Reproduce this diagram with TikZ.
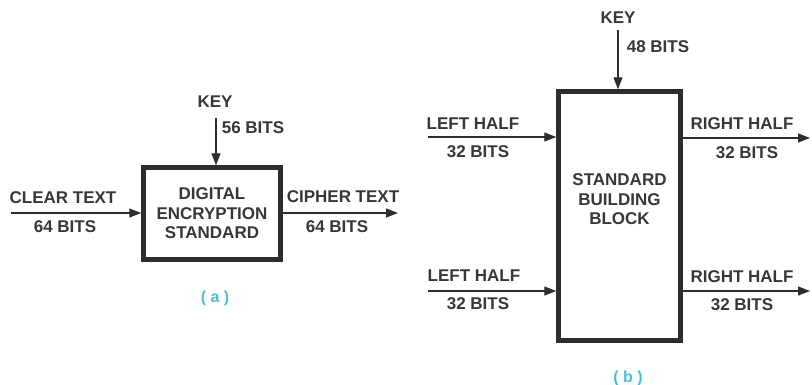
\documentclass[tikz,border=0pt]{standalone}
\usepackage{fontspec}
\setmainfont{Liberation Sans}
\usetikzlibrary{arrows.meta}
\definecolor{inkgray}{RGB}{45, 45, 45}
\definecolor{textgray}{RGB}{55, 55, 55}
\definecolor{capcyan}{RGB}{70, 190, 220}

\begin{document}
\begin{tikzpicture}[
            x=1pt, y=-1pt,
            every node/.style={font=\fontsize{17}{19.5}\selectfont\bfseries, text=textgray, align=center},
            block/.style={rectangle, draw=inkgray, line width=4.5pt, fill=white, inner sep=0pt},
            arrow/.style={-{Triangle[length=12pt, width=9pt]}, line width=1.4pt, draw=inkgray},
            caption/.style={text=capcyan, font=\fontsize{16}{18}\selectfont\bfseries}
        ]
            \useasboundingbox (0,0) rectangle (812,384);
            % (a) digital encryption standard
            \node[block, minimum width=137pt, minimum height=92pt] (des) at (212,213.5) {DIGITAL\\ENCRYPTION\\STANDARD};
            \coordinate (keyA) at (216,118);
            \coordinate (clearIn) at (11,213);
            \coordinate (cipherOut) at (398,213);
            \draw[arrow] (keyA) -- (keyA |- des.north);
            \draw[arrow] (clearIn) -- (clearIn -| des.west);
            \draw[arrow] (cipherOut -| des.east) -- (cipherOut);
            \node (keyAlbl) at (215,102) {KEY};
            \node (keyAbits) at (253,128) {56 BITS};
            \node (clearlbl) at (63,198) {CLEAR TEXT};
            \node (clearbits) at (65,227) {64 BITS};
            \node (cipherlbl) at (343,197) {CIPHER TEXT};
            \node (cipherbits) at (337,227) {64 BITS};
            \node[caption] (capA) at (215,298) {( a )};
            % (b) standard building block
            \node[block, minimum width=122pt, minimum height=249pt] (sbb) at (619.5,216) {STANDARD\\BUILDING\\BLOCK\\[14pt]};
            \coordinate (keyB) at (618,30);
            \coordinate (leftUp) at (428,137);
            \coordinate (leftDown) at (428,291);
            \coordinate (rightUp) at (810,138);
            \coordinate (rightDown) at (810,291);
            \draw[arrow] (keyB) -- (keyB |- sbb.north);
            \draw[arrow] (leftUp) -- (leftUp -| sbb.west);
            \draw[arrow] (leftDown) -- (leftDown -| sbb.west);
            \draw[arrow] (rightUp -| sbb.east) -- (rightUp);
            \draw[arrow] (rightDown -| sbb.east) -- (rightDown);
            \node (keyBlbl) at (618,18) {KEY};
            \node (keyBbits) at (658,47) {48 BITS};
            \node (leftUplbl) at (473,124) {LEFT HALF};
            \node (leftUpbits) at (478,152) {32 BITS};
            \node (leftDownlbl) at (474,276) {LEFT HALF};
            \node (leftDownbits) at (478,304) {32 BITS};
            \node (rightUplbl) at (742,124) {RIGHT HALF};
            \node (rightUpbits) at (747,153) {32 BITS};
            \node (rightDownlbl) at (742,277) {RIGHT HALF};
            \node (rightDownbits) at (742,305) {32 BITS};
            \node[caption] (capB) at (628,378) {( b )};
        \end{tikzpicture}
\end{document}
